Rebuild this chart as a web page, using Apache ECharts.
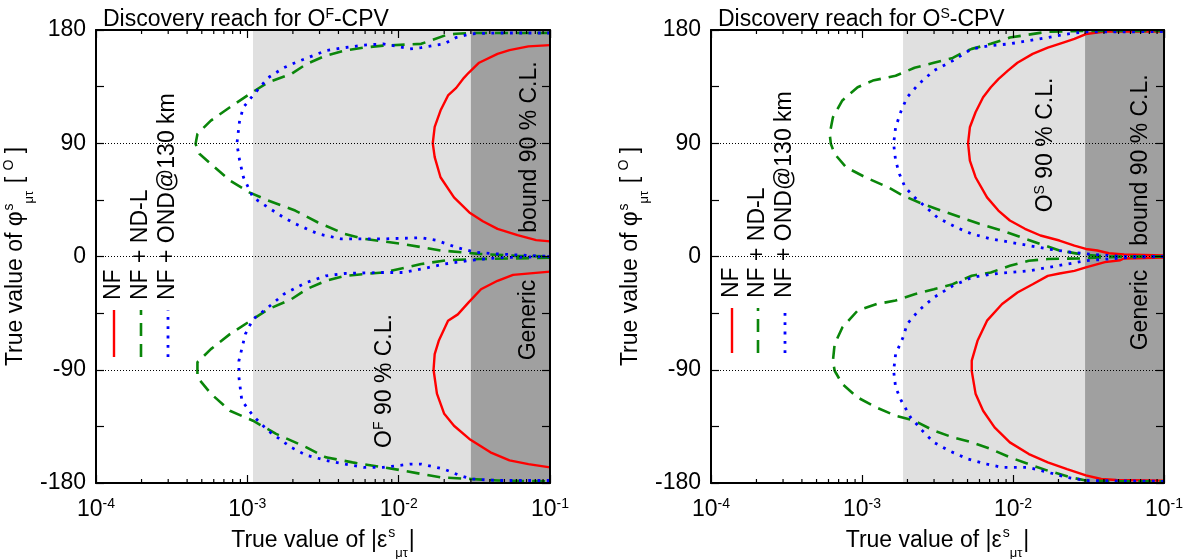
<!DOCTYPE html>
<html><head><meta charset="utf-8">
<script src="https://cdn.jsdelivr.net/npm/echarts@6/dist/echarts.min.js"></script>
<style>html,body{margin:0;padding:0;background:#fff}#c{width:1188px;height:559px}</style>
</head><body><div id="c"></div>
<script>
// ---------- data ----------
const xExponents = [-4, -3, -2, -1];
const yTicks = [-180, -90, 0, 90, 180];
const refLines = [-90, 0, 90];
const minorTicks = [2e-4,3e-4,4e-4,5e-4,6e-4,7e-4,8e-4,9e-4,
                    2e-3,3e-3,4e-3,5e-3,6e-3,7e-3,8e-3,9e-3,
                    2e-2,3e-2,4e-2,5e-2,6e-2,7e-2,8e-2,9e-2];
const leftLightBand = [1.09e-3, 0.03];
const leftDarkBand = [0.03, 0.1];
const rightLightBand = [1.87e-3, 0.03];
const rightDarkBand = [0.03, 0.1];
const legendNames = ['NF', 'NF + ND-L', 'NF + OND@130 km'];

// Left panel (O^F)
const leftNFUpper = [[0.1,168],[0.072,167],[0.054,164],[0.045,161],[0.034,154],[0.029,146],[0.027,142],[0.024,134],[0.0212,128],[0.0189,116],[0.0173,103],[0.0168,90],[0.0173,79],[0.0189,63],[0.0232,47],[0.0293,35],[0.036,28],[0.045,22],[0.061,17],[0.081,13],[0.1,12]];
const leftNFLower = [[0.1,-12],[0.057,-14.6],[0.045,-19.3],[0.035,-26],[0.029,-36.5],[0.0246,-46],[0.0212,-51],[0.0184,-67],[0.0173,-77.6],[0.017,-90],[0.0179,-109],[0.02,-125],[0.0232,-134.5],[0.0293,-145],[0.0404,-155.6],[0.054,-162],[0.072,-165],[0.1,-167.6]];
const leftNDLUpper = [[0.1,177.6],[0.0301,177.6],[0.0239,177],[0.0206,176],[0.0141,169],[0.0079,167.6],[0.0059,166],[0.0044,163.6],[0.0033,159.6],[0.00246,153],[0.00195,145],[0.00137,138.4],[0.00103,129],[0.000767,118.6],[0.000574,108],[0.000468,97.4],[0.000455,89.5],[0.000482,81.6],[0.000574,73.6],[0.000767,60.4],[0.00103,51],[0.00137,44.5],[0.00207,36.5],[0.00293,27],[0.0044,18],[0.0059,14],[0.0106,10],[0.0189,4.8],[0.0339,2.1],[0.06,0.5],[0.1,0]];
const leftNDLLower = [[0.1,-1],[0.06,-1.5],[0.0339,-2],[0.0206,-3],[0.0141,-6],[0.0079,-12.7],[0.0059,-14],[0.0044,-15.4],[0.0033,-19.3],[0.00246,-26],[0.00195,-34],[0.00137,-42],[0.00109,-49.8],[0.000767,-61.7],[0.000574,-73.6],[0.000468,-84],[0.000468,-96],[0.000574,-109],[0.000767,-122.6],[0.00109,-130.5],[0.00155,-141],[0.00246,-151.7],[0.0033,-159.6],[0.00495,-163.6],[0.0079,-167.6],[0.0106,-170],[0.0141,-172.8],[0.0189,-175.5],[0.0301,-176.8],[0.0453,-178],[0.1,-178.7]];
const leftONDUpper = [[0.1,177.6],[0.0453,177.6],[0.0301,177],[0.0239,174],[0.02,169],[0.0141,166],[0.0119,165],[0.0079,169],[0.0059,168],[0.0044,166],[0.0033,163.6],[0.00207,154],[0.00174,150],[0.00137,142],[0.00109,128],[0.000942,118.6],[0.000889,108],[0.000853,89.5],[0.000889,76.5],[0.000942,63],[0.00109,47],[0.00137,39],[0.00174,31],[0.00207,26],[0.00293,18],[0.00416,14],[0.0079,14],[0.0141,14.9],[0.0178,12.8],[0.0239,7.4],[0.0319,3.4],[0.0453,2],[0.1,0]];
const leftONDLower = [[0.1,0],[0.0453,-1],[0.0301,-3],[0.02,-6],[0.0141,-10],[0.0106,-12.7],[0.0079,-12.7],[0.0044,-13.5],[0.0033,-15.4],[0.00246,-20.6],[0.00174,-30],[0.00137,-40.5],[0.00109,-49.8],[0.00097,-61.7],[0.00088,-82.8],[0.00088,-96],[0.00092,-114.6],[0.00109,-126.5],[0.00137,-138.4],[0.00195,-151.7],[0.00246,-158],[0.0033,-162],[0.0044,-165],[0.0059,-167.6],[0.0079,-167.6],[0.0119,-165],[0.0141,-165],[0.02,-169],[0.0253,-174],[0.0301,-176.8],[0.0453,-178],[0.1,-178]];

// Right panel (O^S)
const rightNFUpper = [[0.1,178.7],[0.0406,178.7],[0.0304,176.8],[0.0255,172.9],[0.0215,170],[0.017,166],[0.0135,161],[0.0107,154],[0.00925,147.7],[0.008,141],[0.00713,134.5],[0.00634,126.5],[0.00565,114.6],[0.00518,102.7],[0.00504,90],[0.00518,76.2],[0.00565,63],[0.00673,47],[0.008,36.5],[0.00953,28.6],[0.012,22],[0.0152,16.7],[0.0203,12.7],[0.0255,8.7],[0.0304,6],[0.0362,4.8],[0.0431,2.6],[0.0543,1.6],[0.1,0.8]];
const rightNFLower = [[0.1,-0.8],[0.0543,-1.6],[0.0513,-3],[0.0406,-4.5],[0.0304,-8.7],[0.0255,-11.4],[0.0203,-13.5],[0.017,-15.4],[0.0135,-22],[0.0107,-28.6],[0.00847,-37.8],[0.00673,-51],[0.00582,-67],[0.00533,-82.8],[0.00533,-91],[0.00565,-109],[0.00634,-122.6],[0.00755,-135.8],[0.00953,-147.7],[0.01274,-157],[0.017,-163.6],[0.0228,-169],[0.0304,-174],[0.0384,-176.8],[0.0484,-177.6],[0.1,-178.1]];
const rightNDLUpper = [[0.1,0],[0.0406,0],[0.0287,1.6],[0.0203,4.8],[0.0151,10],[0.0113,15.3],[0.00847,20.6],[0.00598,26],[0.00448,31.2],[0.00335,36.5],[0.00251,41.8],[0.00187,48.4],[0.00149,55],[0.00105,63],[0.000785,70.9],[0.000659,81.5],[0.000622,89.5],[0.000611,97.4],[0.000642,110.6],[0.000741,124],[0.000935,134.5],[0.00118,139.8],[0.00167,143.7],[0.00223,150],[0.00299,154],[0.00399,157.8],[0.00448,161],[0.00533,165],[0.00713,169],[0.00953,174],[0.017,178.7],[0.03,179.3],[0.1,179.3]];
const rightNDLLower = [[0.1,0],[0.0406,-0.5],[0.0287,-1.5],[0.017,-2],[0.0127,-3.4],[0.00953,-7.4],[0.00713,-12.7],[0.00533,-15.3],[0.00399,-22],[0.00299,-26],[0.00223,-30],[0.00167,-35],[0.00125,-37.8],[0.000935,-43],[0.000741,-56.4],[0.000659,-69.6],[0.000642,-82.8],[0.000659,-90.8],[0.000741,-101.4],[0.000935,-112],[0.00125,-120],[0.00167,-126.5],[0.00223,-130.5],[0.00299,-138.4],[0.00399,-143.7],[0.00533,-147.7],[0.00713,-153],[0.00953,-159.6],[0.0127,-165],[0.017,-170.2],[0.0241,-175.5],[0.0304,-178],[0.0543,-178.7],[0.1,-178.7]];
const rightONDUpper = [[0.1,0],[0.0543,0],[0.0341,1.6],[0.0241,3.4],[0.017,6],[0.0127,8.7],[0.00953,11.4],[0.00713,14],[0.00533,18],[0.00423,23],[0.00316,31],[0.00266,39],[0.00223,47],[0.00193,55],[0.00177,65.6],[0.00167,76.2],[0.00162,89.5],[0.00167,102.7],[0.00182,116],[0.00199,126.5],[0.00237,137],[0.00299,147.7],[0.00399,155.6],[0.00533,165],[0.00713,167.6],[0.00953,169],[0.0127,171.5],[0.017,174],[0.0228,176.8],[0.0304,178.5],[0.1,178.7]];
const rightONDLower = [[0.1,0],[0.0543,-1],[0.0304,-3.4],[0.0228,-6],[0.017,-8.7],[0.0127,-11.4],[0.00953,-12.7],[0.00713,-14],[0.00533,-16.7],[0.00399,-23.3],[0.00299,-32.6],[0.00237,-43],[0.00199,-53.7],[0.00187,-64.3],[0.00167,-77.6],[0.00162,-90.8],[0.00167,-104],[0.00182,-114.6],[0.0021,-127.9],[0.00251,-138.4],[0.00299,-147.7],[0.00376,-154.3],[0.00504,-161],[0.00673,-165],[0.00847,-167.6],[0.0127,-167.6],[0.017,-171.5],[0.0228,-175.5],[0.0304,-178],[0.1,-178.7]];

// ---------- styling ----------
const FONT = 'Liberation Sans, Arial, sans-serif';
const FS = 23;
const RED = '#ff0000', GREEN = '#0a860a', BLUE = '#0000ff';
const LIGHT = '#e0e0e0', DARK = '#a0a0a0';
const STYLES = {
  nf:  {color: RED,   width: 2.4, type: 'solid'},
  ndl: {color: GREEN, width: 2.6, type: [13, 8]},
  ond: {color: BLUE,  width: 2.8, type: [2.8, 6.5]}
};

const chart = echarts.init(document.getElementById('c'), null, {renderer: 'canvas'});

function txt(size, extra) {
  return Object.assign({fontSize: size, fontFamily: FONT, color: '#000', fontWeight: 'normal'}, extra || {});
}

function xAxisPair(gridIndex) {
  const common = {
    type: 'log', logBase: 10, min: 1e-4, max: 1e-1, splitNumber: 3,
    gridIndex, z: 10, splitLine: {show: false},
    axisLine: {show: true, onZero: false, lineStyle: {color: '#000', width: 2}},
    axisTick: {show: true, inside: true, length: 8, lineStyle: {color: '#000', width: 1.2}},
    minorTick: {show: false}
  };
  return [
    Object.assign({}, common, {
      position: 'bottom',
      name: '{n|True value of |ε}{sup|s}{sub|μτ}{n||}',
      nameLocation: 'middle', nameGap: 38,
      nameTextStyle: {fontFamily: FONT, rich: {
        n: txt(FS, {lineHeight: 28}),
        sup: txt(14, {verticalAlign: 'top', lineHeight: 14, padding: [0,0,0,1]}),
        sub: txt(13, {verticalAlign: 'bottom', lineHeight: 13, padding: [0,1,-6,0]})
      }},
      axisLabel: {
        margin: 14,
        formatter: v => '{b|10}{s|' + Math.round(Math.log10(v)) + '}',
        rich: {
          b: txt(FS, {lineHeight: 26}),
          s: txt(14, {verticalAlign: 'top', lineHeight: 12})
        }
      }
    }),
    Object.assign({}, common, {position: 'top', axisLabel: {show: false}})
  ];
}

function yAxisPair(gridIndex) {
  const common = {
    type: 'value', min: -180, max: 180, interval: 90, gridIndex, z: 10,
    splitLine: {show: false},
    axisLine: {show: true, onZero: false, lineStyle: {color: '#000', width: 2}},
    axisTick: {show: true, inside: true, length: 8, lineStyle: {color: '#000', width: 1.2}},
    minorTick: {show: true, splitNumber: 2, length: 8, lineStyle: {color: '#000', width: 1.2}}
  };
  return [
    Object.assign({}, common, {
      position: 'left',
      name: '{n|True value of φ}{sup|s}{sub|μτ}{n| [ }{deg|O}{n| ]}',
      nameLocation: 'middle', nameRotate: 90, nameGap: 51,
      nameTextStyle: {fontFamily: FONT, rich: {
        n: txt(FS, {lineHeight: 28}),
        sup: txt(14, {verticalAlign: 'top', lineHeight: 14, padding: [0,0,0,1]}),
        sub: txt(13, {verticalAlign: 'bottom', lineHeight: 13, padding: [0,1,-6,0]}),
        deg: txt(14, {verticalAlign: 'top', lineHeight: 14})
      }},
      axisLabel: {margin: 10, fontSize: FS, fontFamily: FONT, color: '#000',
        formatter: v => yTicks.indexOf(v) >= 0 ? String(v) : ''}
    }),
    Object.assign({}, common, {position: 'right', axisLabel: {show: false}})
  ];
}

function curve(data, gi, kind) {
  const s = STYLES[kind];
  return {
    type: 'line', data, xAxisIndex: gi * 2, yAxisIndex: gi * 2,
    showSymbol: false, symbol: 'none', smooth: false, z: 4, silent: true,
    lineStyle: {color: s.color, width: s.width, type: s.type, cap: 'butt'},
    animation: false
  };
}

function background(gi, light, dark) {
  return {
    type: 'line', data: [], xAxisIndex: gi * 2, yAxisIndex: gi * 2, z: 1, silent: true,
    markArea: {silent: true, data: [
      [{xAxis: light[0], yAxis: -180, itemStyle: {color: LIGHT}}, {xAxis: light[1], yAxis: 180}],
      [{xAxis: dark[0], yAxis: -180, itemStyle: {color: DARK}}, {xAxis: dark[1], yAxis: 180}]
    ]},
    markLine: {silent: true, symbol: ['none', 'none'], label: {show: false},
      lineStyle: {color: '#000', width: 1, type: [1, 2]},
      data: refLines.map(v => ({yAxis: v}))},
    animation: false
  };
}

function minorTickSeries(gi) {
  return {
    type: 'custom', xAxisIndex: gi * 2, yAxisIndex: gi * 2, z: 12, silent: true, clip: false,
    data: minorTicks.map(v => [v, 0]),
    renderItem: (params, api) => {
      const x = api.coord([api.value(0), 0])[0];
      const cs = params.coordSys;
      const st = {stroke: '#000', lineWidth: 1.2};
      return {type: 'group', children: [
        {type: 'line', shape: {x1: x, y1: cs.y + cs.height, x2: x, y2: cs.y + cs.height - 4}, style: st},
        {type: 'line', shape: {x1: x, y1: cs.y, x2: x, y2: cs.y + 4}, style: st}
      ]};
    },
    animation: false
  };
}

function rotText(x, y, text, align, rich) {
  return {type: 'text', x, y, rotation: Math.PI / 2, z: 20, silent: true,
    style: {text, fontSize: FS, fontFamily: FONT, fill: '#000', textAlign: align, textVerticalAlign: 'middle', rich: rich || undefined}};
}
const annRich = {
  a: {fontSize: FS, fontFamily: FONT, fill: '#000', lineHeight: 26},
  s: {fontSize: 14, fontFamily: FONT, fill: '#000', verticalAlign: 'top', lineHeight: 14}
};

function legendGraphics(cols, textY, lineTop, lineBottom) {
  const kinds = ['nf', 'ndl', 'ond'];
  const out = [];
  kinds.forEach((k, i) => {
    out.push(rotText(cols[i], textY, legendNames[i], 'left'));
    const s = STYLES[k];
    out.push({type: 'line', z: 20, silent: true,
      shape: {x1: cols[i], y1: lineBottom, x2: cols[i], y2: lineTop},
      style: {stroke: s.color, lineWidth: s.width, lineDash: s.type === 'solid' ? null : s.type}});
  });
  return out;
}

const titleRich = {
  n: txt(FS, {lineHeight: 26}),
  s: txt(14, {verticalAlign: 'top', lineHeight: 12})
};

const option = {
  animation: false,
  backgroundColor: '#fff',
  title: [
    {text: '{n|Discovery reach for O}{s|F}{n|-CPV}', left: 98, top: 2, textStyle: {rich: titleRich, fontFamily: FONT, fontWeight: 'normal'}},
    {text: '{n|Discovery reach for O}{s|S}{n|-CPV}', left: 713, top: 2, textStyle: {rich: titleRich, fontFamily: FONT, fontWeight: 'normal'}}
  ],
  grid: [
    {left: 96, top: 30, width: 454, height: 453, containLabel: false, outerBoundsMode: 'none'},
    {left: 711, top: 30, width: 453, height: 453, containLabel: false, outerBoundsMode: 'none'}
  ],
  xAxis: [...xAxisPair(0), ...xAxisPair(1)],
  yAxis: [...yAxisPair(0), ...yAxisPair(1)],
  series: [
    background(0, leftLightBand, leftDarkBand),
    background(1, rightLightBand, rightDarkBand),
    curve(leftNFUpper, 0, 'nf'), curve(leftNFLower, 0, 'nf'),
    curve(leftNDLUpper, 0, 'ndl'), curve(leftNDLLower, 0, 'ndl'),
    curve(leftONDUpper, 0, 'ond'), curve(leftONDLower, 0, 'ond'),
    curve(rightNFUpper, 1, 'nf'), curve(rightNFLower, 1, 'nf'),
    curve(rightNDLUpper, 1, 'ndl'), curve(rightNDLLower, 1, 'ndl'),
    curve(rightONDUpper, 1, 'ond'), curve(rightONDLower, 1, 'ond'),
    minorTickSeries(0), minorTickSeries(1)
  ],
  graphic: [
    ...legendGraphics([114, 141, 168], 300, 310, 357),
    ...legendGraphics([732, 758, 785], 298, 308, 353),
    rotText(530, 147, 'bound 90 % C.L.', 'center'),
    rotText(529, 320, 'Generic', 'center'),
    rotText(385, 381, '{a|O}{s|F}{a| 90 % C.L.}', 'center', annRich),
    rotText(1141, 160, 'bound 90 % C.L.', 'center'),
    rotText(1141, 310, 'Generic', 'center'),
    rotText(1046, 145, '{a|O}{s|S}{a| 90 % C.L.}', 'center', annRich)
  ]
};
chart.setOption(option);
</script></body></html>
